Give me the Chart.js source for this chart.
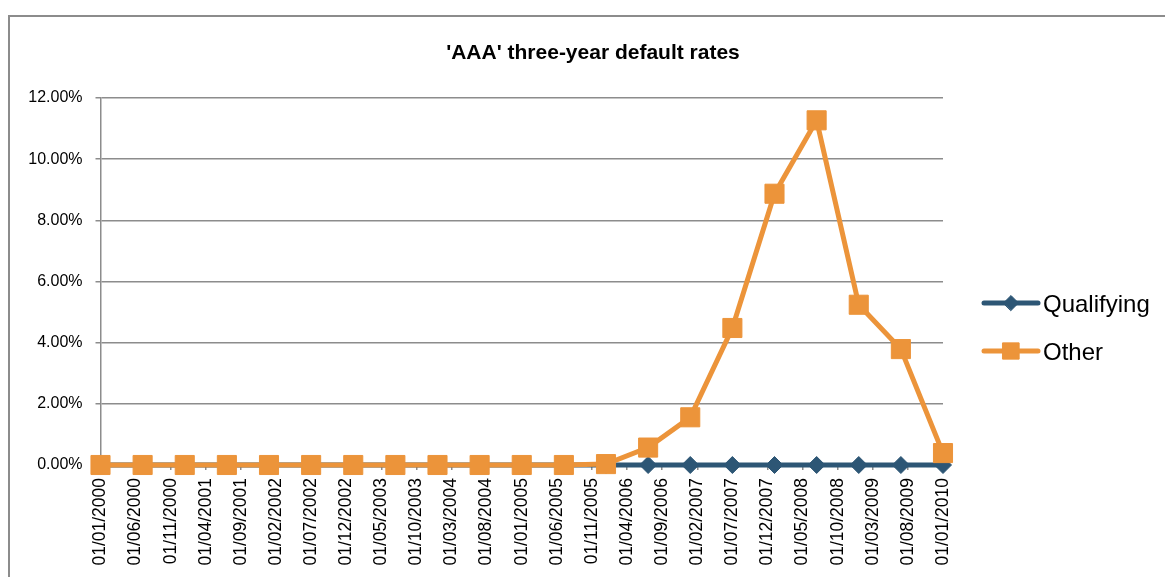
<!DOCTYPE html>
<html><head><meta charset="utf-8">
<script src="https://cdn.jsdelivr.net/npm/chart.js@4.4.1/dist/chart.umd.min.js"></script>
<style>html,body{margin:0;padding:0;background:#fff;overflow:hidden}canvas{display:block}</style>
</head><body>
<canvas id="c" width="1165" height="577"></canvas>
<script>
const chartTitle = "'AAA' three-year default rates";
const seriesNames = ['Qualifying', 'Other'];
const tickLabels = ['01/01/2000','01/06/2000','01/11/2000','01/04/2001','01/09/2001','01/02/2002','01/07/2002','01/12/2002','01/05/2003','01/10/2003','01/03/2004','01/08/2004','01/01/2005','01/06/2005','01/11/2005','01/04/2006','01/09/2006','01/02/2007','01/07/2007','01/12/2007','01/05/2008','01/10/2008','01/03/2009','01/08/2009','01/01/2010'];
const dates = ['01/01/2000','01/07/2000','01/01/2001','01/07/2001','01/01/2002','01/07/2002','01/01/2003','01/07/2003','01/01/2004','01/07/2004','01/01/2005','01/07/2005','01/01/2006','01/07/2006','01/01/2007','01/07/2007','01/01/2008','01/07/2008','01/01/2009','01/07/2009','01/01/2010'];
const qualifying = [0,0,0,0,0,0,0,0,0,0,0,0,0,0,0,0,0,0,0,0,0];
const other = [0,0,0,0,0,0,0,0,0,0,0,0,0.03,0.57,1.56,4.48,8.87,11.27,5.24,3.79,0.39];
const yMin = 0, yMax = 12, yStep = 2;

const FONT = '"Liberation Sans", Arial, sans-serif';
const GRID = '#8c8c8c';
const BLUE = '#2d5675';
const ORANGE = '#ec943a';

function monthIndex(s){ const p = s.split('/'); return (parseInt(p[2],10)-2000)*12 + parseInt(p[1],10)-1; }

const decor = {
  id: 'decor',
  beforeDraw(chart){
    const ctx = chart.ctx; ctx.save();
    ctx.fillStyle = '#fff'; ctx.fillRect(0,0,chart.width,chart.height);
    ctx.strokeStyle = GRID; ctx.lineWidth = 2; ctx.strokeRect(9,16,3000,3000);
    ctx.restore();
  },
  afterDraw(chart){
    const ctx = chart.ctx; ctx.save();
    ctx.fillStyle = '#000'; ctx.font = 'bold 21px ' + FONT;
    ctx.textAlign = 'center'; ctx.textBaseline = 'alphabetic';
    ctx.fillText(chartTitle, 593, 59);
    const rows = [{y:303, base:312, r:7.5}, {y:351, base:360, r:11.5}];
    chart.data.datasets.forEach((ds, i) => {
      const r = rows[i];
      ctx.strokeStyle = ds.borderColor; ctx.lineWidth = ds.borderWidth; ctx.lineCap = 'round';
      ctx.beginPath(); ctx.moveTo(984, r.y); ctx.lineTo(1038, r.y); ctx.stroke();
      ctx.fillStyle = ds.pointBackgroundColor; ctx.strokeStyle = ds.pointBorderColor; ctx.lineWidth = 1;
      Chart.helpers.drawPoint(ctx, {pointStyle: ds.pointStyle, radius: r.r, borderWidth: 1, rotation: 0}, 1011, r.y);
      ctx.fillStyle = '#000'; ctx.font = '24px ' + FONT; ctx.textAlign = 'left'; ctx.textBaseline = 'alphabetic';
      ctx.fillText(ds.label, 1043, r.base);
    });
    ctx.restore();
  }
};

new Chart(document.getElementById('c'), {
  type: 'line',
  data: {
    datasets: [
      { label: seriesNames[0], data: dates.map((d,i)=>({x: monthIndex(d), y: qualifying[i]})),
        borderColor: BLUE, backgroundColor: BLUE, pointBackgroundColor: BLUE, pointBorderColor: BLUE,
        borderWidth: 5, pointStyle: 'rectRot', pointRadius: 8.5, pointBorderWidth: 1, order: 2, clip: false, tension: 0 },
      { label: seriesNames[1], data: dates.map((d,i)=>({x: monthIndex(d), y: other[i]})),
        borderColor: ORANGE, backgroundColor: ORANGE, pointBackgroundColor: ORANGE, pointBorderColor: ORANGE,
        borderWidth: 5, pointStyle: 'rect', pointRadius: 13.5, pointBorderWidth: 1, order: 1, clip: false, tension: 0 }
    ]
  },
  options: {
    responsive: false, animation: false, events: [],
    layout: { padding: { top: 98, right: 222, bottom: 0, left: 0 } },
    plugins: { legend: { display: false }, title: { display: false }, tooltip: { enabled: false } },
    scales: {
      x: {
        type: 'linear', min: monthIndex(tickLabels[0]), max: monthIndex(tickLabels[tickLabels.length-1]),
        afterBuildTicks: s => { s.ticks = tickLabels.map(l => ({ value: monthIndex(l) })); },
        afterFit: s => { s.height = 112; },
        ticks: { autoSkip: false, maxRotation: 90, minRotation: 90, padding: 8, color: '#000',
                 font: { family: FONT, size: 17.5 }, callback: (v, i) => tickLabels[i] },
        grid: { drawOnChartArea: false, drawTicks: true, tickLength: 5, color: GRID, lineWidth: 1.5 },
        border: { display: true, color: GRID, width: 1.5 }
      },
      y: {
        min: yMin, max: yMax,
        afterFit: s => { s.width = 100.5; },
        ticks: { stepSize: yStep, padding: 13, color: '#000', font: { family: FONT, size: 16 },
                 callback: v => v.toFixed(2) + '%' },
        grid: { drawTicks: true, tickLength: 5, color: GRID, lineWidth: 1.5 },
        border: { display: true, color: GRID, width: 1.5 }
      }
    }
  },
  plugins: [decor]
});
</script>
</body></html>
